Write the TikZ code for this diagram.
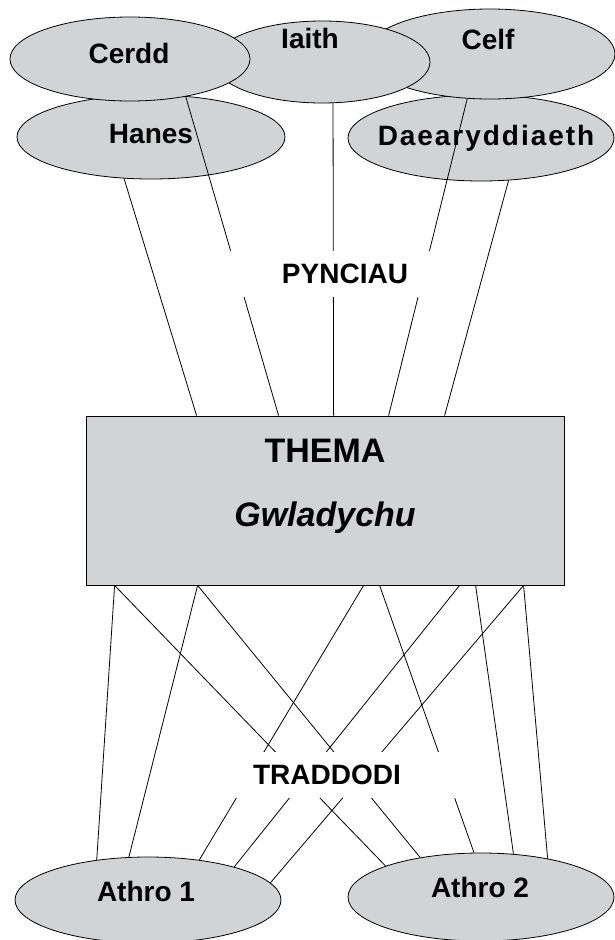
\documentclass[tikz,border=0pt]{standalone}
\usepackage{fontspec}
\setmainfont{Liberation Sans}
\usetikzlibrary{shapes.geometric}
\definecolor{fillgrey}{RGB}{209,211,212}

\begin{document}
\begin{tikzpicture}[x=1pt, y=-1pt, line width=0.8pt,
    every node/.style={inner sep=0pt, text depth=0pt,
        font=\bfseries\fontsize{28}{30}\selectfont},
    blob/.style={ellipse, draw, fill=fillgrey},
    gap/.style={fill=white, minimum height=46pt},
]
\useasboundingbox (0,0) rectangle (615,940);
\node[blob, minimum width=268pt, minimum height=84pt] (hanes) at (151,137) {};
\node[blob, minimum width=266pt, minimum height=86pt] (daear) at (481,138) {};
\node[blob, minimum width=250pt, minimum height=90pt] (celf) at (490,54) {};
\node[blob, minimum width=216pt, minimum height=82pt] (iaith) at (322,62) {};
\node[blob, minimum width=240pt, minimum height=84pt] (cerdd) at (130,59) {};
\node (cerdd-t) at (129,53) {Cerdd};
\node (iaith-t) at (310,38) {Iaith};
\node (celf-t) at (488,39) {Celf};
\node (hanes-t) at (151,133.5) {Hanes};
\node (daear-t) at (486,135) {\addfontfeature{LetterSpace=7}Daearyddiaeth};

\node[draw, fill=fillgrey, minimum width=478pt, minimum height=169pt]
    (thema) at (325,500.5) {};
\node[font=\bfseries\fontsize{34}{36}\selectfont] (thema-t) at (325,450.5) {THEMA};
\node[font=\bfseries\itshape\fontsize{34}{36}\selectfont] (gwlad-t) at (325,514) {Gwladychu};

\node[blob, minimum width=266pt, minimum height=86pt] (athro1) at (148,900) {};
\node[blob, minimum width=266pt, minimum height=88pt] (athro2) at (481,897) {};
\node (athro1-t) at (146,891) {Athro 1};
\node (athro2-t) at (480,887.5) {Athro 2};

\draw
(hanes.-123) edge ([xshift=111pt]thema.north west)
(cerdd.-34) edge ([xshift=193pt]thema.north west)
(iaith.-75) edge ([xshift=248pt]thema.north west)
(celf.-117) edge ([xshift=303pt]thema.north west)
(daear.-57) edge ([xshift=359pt]thema.north west)
([xshift=29pt]thema.south west) edge (athro1.142) edge (athro2.162)
([xshift=112pt]thema.south west) edge (athro1.114) edge (athro2.147)
([xshift=278pt]thema.south west) edge (athro1.38)
([xshift=294pt]thema.south west) edge (athro2.99)
([xshift=374pt]thema.south west) edge (athro1.21)
([xshift=390pt]thema.south west) edge (athro2.53)
([xshift=438pt]thema.south west) edge (athro1.8) edge (athro2.30)
;

\node[gap, minimum width=240pt] (pync) at (345,273.5) {PYNCIAU};
\node[gap, minimum width=265pt] (tradd) at (327,774.5) {TRADDODI};
\end{tikzpicture}
\end{document}
